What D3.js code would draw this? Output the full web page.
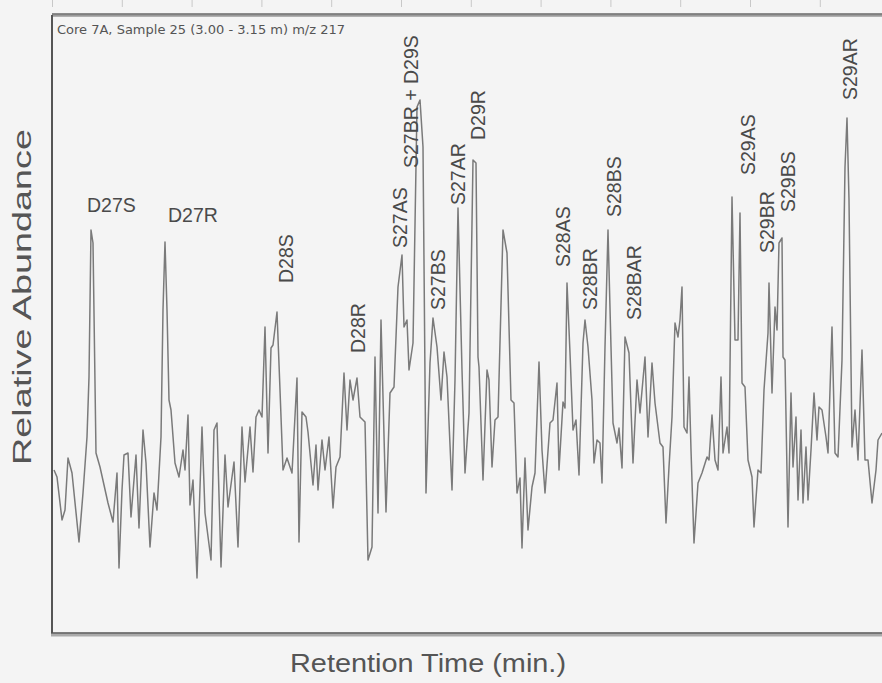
<!DOCTYPE html>
<html>
<head>
<meta charset="utf-8">
<script src="https://cdn.jsdelivr.net/npm/d3@7"></script>
<style>
  body { margin: 0; background: #f4f4f4; }
  svg { display: block; }
</style>
</head>
<body>
<script>
// scan number (arbitrary time units) and abundance counts
const scan = [4,7,12,15,18,22,29,33,37,39,41,43,46,50,58,63,67,69,72,74,78,81,86,89,93,96,100,104,107,111,113,115,117,119,121,125,129,133,135,138,140,143,147,152,155,161,164,167,171,175,178,184,188,192,195,200,203,206,209,212,215,218,221,223,227,230,233,237,242,247,249,252,256,258,263,266,268,272,275,279,283,286,290,294,297,300,303,307,310,315,318,322,325,328,331,336,340,344,348,352,354,357,359,363,367,370,373,376,380,383,387,391,394,397,402,405,408,412,415,419,423,426,428,429,433,437,439,442,445,448,453,457,461,464,467,470,472,475,478,482,485,489,492,495,500,503,507,509,513,515,517,520,523,526,529,533,535,538,542,544,547,550,552,555,558,561,563,567,569,572,575,579,583,587,590,595,598,602,605,610,613,616,619,622,625,628,630,632,634,637,639,641,644,648,652,657,659,662,665,668,671,673,677,679,682,685,688,690,692,695,698,702,704,708,711,714,718,719,722,725,727,729,732,733,735,738,741,743,746,748,751,753,756,758,761,764,767,769,772,776,778,782,785,788,792,795,797,799,802,805,808,812,815,818,822,826,828,832];
const abundance = [163,156,113,123,175,160,91,140,196,256,403,390,180,166,130,111,160,65,143,178,180,116,178,105,203,170,86,140,123,196,323,391,323,233,223,170,156,183,163,218,128,153,55,206,120,73,203,210,66,178,126,171,86,206,151,206,161,216,223,216,306,180,285,288,321,243,163,175,160,255,91,221,216,201,148,188,143,193,163,196,125,166,176,260,203,253,233,255,216,211,73,86,276,120,313,121,240,246,346,378,306,313,263,290,526,533,486,140,270,315,286,233,281,256,143,253,425,263,160,220,473,470,276,266,153,263,253,166,213,216,403,380,233,230,140,155,85,175,103,146,160,271,183,140,210,213,250,163,231,225,350,280,203,213,158,290,313,286,233,170,193,190,150,286,403,286,210,190,205,165,296,280,170,253,220,276,196,270,230,190,186,110,166,216,310,296,313,346,206,200,256,183,90,150,160,176,173,218,173,163,256,180,206,180,436,293,293,420,250,246,173,156,106,163,160,243,300,350,240,326,303,390,395,276,273,106,240,166,216,133,203,130,186,133,183,240,193,226,223,196,180,306,180,176,273,466,515,433,186,223,173,283,173,173,130,163,193,200];

// peak annotations: name, scan position and height of the label foot
const peakNames = ["D28S","D28R","S27AS","S27BR + D29S","S27BS","S27AR","D29R","S28AS","S28BR","S28BS","S28BAR","S29AS","S29BR","S29BS","S29AR"];
const peakScan  = [236,308,350,361,388,408,428,513,540,564,584,698,717,738,800];
const peakLevel = [350,280,385,465,323,428,493,366,323,416,313,458,380,421,533];
// the two labels written flat
const flatNames = ["D27S","D27R"];
const flatScan  = [37,118];
const flatLevel = [421,411];

const title = "Core 7A, Sample 25 (3.00 - 3.15 m) m/z 217";
const topTicks = d3.range(2, 832, 69.8);

const W = 882, H = 683;
const m = {left: 52, top: 15, bottom: 633, right: 882};

const svg = d3.select("body").append("svg").attr("width", W).attr("height", H);

const x = d3.scaleLinear().domain([0, 832]).range([50, m.right]);
const y = d3.scaleLinear().domain([0, 618]).range([m.bottom, m.top]);

// faint ticks above the frame
svg.append("g").attr("transform", "translate(0,7)")
  .call(d3.axisTop(x).tickValues(topTicks).tickSize(7).tickFormat(""))
  .call(g => g.select(".domain").remove())
  .call(g => g.selectAll("line").attr("stroke", "#c8c8c8"));

// frame
svg.append("line").attr("x1", m.left).attr("x2", W + 10).attr("y1", m.top).attr("y2", m.top)
  .attr("stroke", "#9a9a9a").attr("stroke-width", 3.5);
svg.append("line").attr("x1", m.left).attr("x2", W + 10).attr("y1", m.top - 1).attr("y2", m.top - 1)
  .attr("stroke", "#666").attr("stroke-width", 1);
svg.append("line").attr("x1", m.left).attr("x2", m.left).attr("y1", m.top).attr("y2", m.bottom)
  .attr("stroke", "#555").attr("stroke-width", 2);
svg.append("line").attr("x1", m.left - 1).attr("x2", W + 10).attr("y1", m.bottom + 2).attr("y2", m.bottom + 2)
  .attr("stroke", "#aaa").attr("stroke-width", 3);
svg.append("line").attr("x1", m.left - 1).attr("x2", W + 10).attr("y1", m.bottom).attr("y2", m.bottom)
  .attr("stroke", "#555").attr("stroke-width", 1.5);

// trace
const pts = scan.map((s, i) => [s, abundance[i]]);
svg.append("path").datum(pts)
  .attr("fill", "none").attr("stroke", "#7a7a7a").attr("stroke-width", 1.5)
  .attr("stroke-linejoin", "round")
  .attr("d", d3.line().x(d => x(d[0])).y(d => y(d[1])));

// title
svg.append("text").attr("x", 57).attr("y", 34).text(title)
  .attr("font-family", "'Liberation Sans Narrow', 'DejaVu Sans Condensed', sans-serif")
  .attr("font-size", 13).attr("fill", "#555")
  .attr("textLength", 288).attr("lengthAdjust", "spacingAndGlyphs");

// peak labels
const lab = { "font-family": "'Liberation Sans', Arial, sans-serif", "font-size": 19.5, fill: "#4a4a4a" };
svg.selectAll(".flat").data(flatNames).enter().append("text").attr("class", "flat")
  .attr("x", (d, i) => x(flatScan[i])).attr("y", (d, i) => y(flatLevel[i]))
  .attr("font-family", lab["font-family"]).attr("font-size", lab["font-size"]).attr("fill", lab.fill)
  .text(d => d);
svg.selectAll(".peak").data(peakNames).enter().append("text").attr("class", "peak")
  .attr("transform", (d, i) => `translate(${x(peakScan[i])},${y(peakLevel[i])}) rotate(-90)`)
  .attr("dy", "0.36em")
  .attr("font-family", lab["font-family"]).attr("font-size", lab["font-size"]).attr("fill", lab.fill)
  .text(d => d);

// axis titles
svg.append("text").attr("transform", "translate(31,297) rotate(-90)")
  .attr("text-anchor", "middle").attr("font-family", "'Liberation Sans', Arial, sans-serif")
  .attr("font-size", 25).attr("fill", "#555")
  .attr("textLength", 336).attr("lengthAdjust", "spacingAndGlyphs")
  .text("Relative Abundance");
svg.append("text").attr("x", 428).attr("y", 672)
  .attr("text-anchor", "middle").attr("font-family", "'Liberation Sans', Arial, sans-serif")
  .attr("font-size", 25).attr("fill", "#555")
  .attr("textLength", 276).attr("lengthAdjust", "spacingAndGlyphs")
  .text("Retention Time (min.)");
</script>
</body>
</html>
